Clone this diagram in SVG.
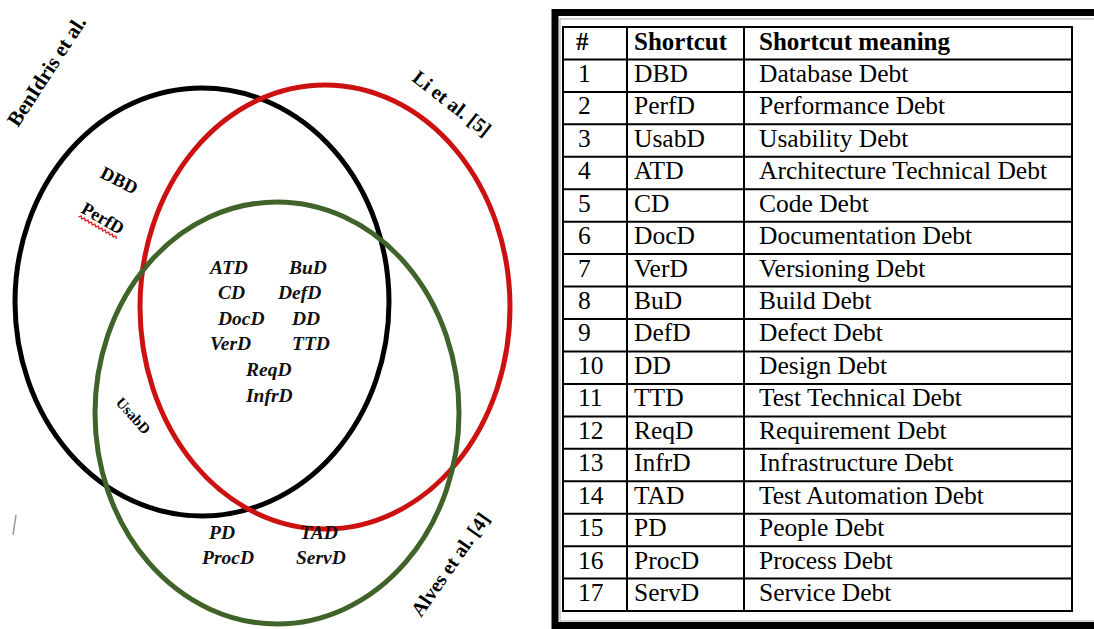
<svg xmlns="http://www.w3.org/2000/svg" width="1094" height="629" viewBox="0 0 1094 629">
<style>
.lbl{font-family:"Liberation Serif",serif;font-weight:bold;fill:#000}
.it{font-family:"Liberation Serif",serif;font-weight:bold;font-style:italic;fill:#111;font-size:19.5px}
.tb{font-family:"Liberation Serif",serif;font-size:25.5px;fill:#000}
.th{font-family:"Liberation Serif",serif;font-size:25px;font-weight:bold;fill:#000}
.grid{stroke:#000;stroke-width:2;fill:none}
</style>
<rect width="1094" height="629" fill="#fff"/>
<g id="venn">
<g id="set-benidris"><ellipse cx="202" cy="302" rx="187" ry="214" fill="none" stroke="#000" stroke-width="5"/>
<text class="lbl" font-size="21" transform="translate(18,128) rotate(-57)">BenIdris et al.</text></g>
<g id="set-li"><ellipse cx="325" cy="307" rx="185" ry="222" fill="none" stroke="#cc1111" stroke-width="5"/>
<text class="lbl" font-size="20" transform="translate(411,80) rotate(38)">Li et al. [5]</text></g>
<g id="set-alves"><ellipse cx="277" cy="413" rx="182" ry="211" fill="none" stroke="#3f6329" stroke-width="5"/>
<text class="lbl" font-size="20" transform="translate(421,618) rotate(-55)">Alves et al. [4]</text></g>
</g>
<g id="labels">
<text class="lbl" font-size="18.5" transform="translate(99,177) rotate(27)">DBD</text>
<g transform="translate(80,212) rotate(30)"><text class="lbl" font-size="18">PerfD</text>
<path d="M1,5 l2,-2 l2,2 l2,-2 l2,2 l2,-2 l2,2 l2,-2 l2,2 l2,-2 l2,2 l2,-2 l2,2 l2,-2 l2,2 l2,-2 l2,2 l2,-2 l2,2 l2,-2 l2,2 l2,-2 l2,2" fill="none" stroke="#e02020" stroke-width="1.3"/></g>
<text class="lbl" font-size="15" transform="translate(115,403) rotate(48)">UsabD</text>
<text class="it" x="210" y="274">ATD</text>
<text class="it" x="289" y="274">BuD</text>
<text class="it" x="218" y="299">CD</text>
<text class="it" x="278" y="299">DefD</text>
<text class="it" x="218" y="325">DocD</text>
<text class="it" x="292" y="325">DD</text>
<text class="it" x="210" y="350">VerD</text>
<text class="it" x="292" y="350">TTD</text>
<text class="it" x="246" y="376">ReqD</text>
<text class="it" x="246" y="402">InfrD</text>
<text class="it" x="209" y="539">PD</text>
<text class="it" x="300" y="539">TAD</text>
<text class="it" x="202" y="564">ProcD</text>
<text class="it" x="296" y="564">ServD</text>
<line x1="16" y1="515" x2="13" y2="535" stroke="#999" stroke-width="1.5"/>
</g>
<g id="table">
<rect x="555" y="12.5" width="600" height="613" fill="none" stroke="#000" stroke-width="7"/>
<rect x="560" y="19" width="600" height="602" fill="none" stroke="#aaa" stroke-width="1"/>
<rect class="grid" x="563" y="27" width="509" height="584"/>
<line class="grid" x1="627" y1="27" x2="627" y2="611"/>
<line class="grid" x1="744" y1="27" x2="744" y2="611"/>
<g class="grid">
<line x1="563" y1="59.4" x2="1072" y2="59.4"/><line x1="563" y1="91.9" x2="1072" y2="91.9"/>
<line x1="563" y1="124.3" x2="1072" y2="124.3"/><line x1="563" y1="156.8" x2="1072" y2="156.8"/>
<line x1="563" y1="189.2" x2="1072" y2="189.2"/><line x1="563" y1="221.7" x2="1072" y2="221.7"/>
<line x1="563" y1="254.1" x2="1072" y2="254.1"/><line x1="563" y1="286.6" x2="1072" y2="286.6"/>
<line x1="563" y1="319" x2="1072" y2="319"/><line x1="563" y1="351.5" x2="1072" y2="351.5"/>
<line x1="563" y1="383.9" x2="1072" y2="383.9"/><line x1="563" y1="416.4" x2="1072" y2="416.4"/>
<line x1="563" y1="448.8" x2="1072" y2="448.8"/><line x1="563" y1="481.3" x2="1072" y2="481.3"/>
<line x1="563" y1="513.7" x2="1072" y2="513.7"/><line x1="563" y1="546.2" x2="1072" y2="546.2"/>
<line x1="563" y1="578.6" x2="1072" y2="578.6"/>
</g>
<text class="th" x="576" y="50">#</text><text class="th" x="634" y="50">Shortcut</text><text class="th" x="759" y="50">Shortcut meaning</text>
<g class="tb">
<text x="578" y="82">1</text><text x="634" y="82">DBD</text><text x="759" y="82">Database Debt</text>
<text x="578" y="114">2</text><text x="634" y="114">PerfD</text><text x="759" y="114">Performance Debt</text>
<text x="578" y="147">3</text><text x="634" y="147">UsabD</text><text x="759" y="147">Usability Debt</text>
<text x="578" y="179">4</text><text x="634" y="179">ATD</text><text x="759" y="179">Architecture Technical Debt</text>
<text x="578" y="212">5</text><text x="634" y="212">CD</text><text x="759" y="212">Code Debt</text>
<text x="578" y="244">6</text><text x="634" y="244">DocD</text><text x="759" y="244">Documentation Debt</text>
<text x="578" y="277">7</text><text x="634" y="277">VerD</text><text x="759" y="277">Versioning Debt</text>
<text x="578" y="309">8</text><text x="634" y="309">BuD</text><text x="759" y="309">Build Debt</text>
<text x="578" y="341">9</text><text x="634" y="341">DefD</text><text x="759" y="341">Defect Debt</text>
<text x="578" y="374">10</text><text x="634" y="374">DD</text><text x="759" y="374">Design Debt</text>
<text x="578" y="406">11</text><text x="634" y="406">TTD</text><text x="759" y="406">Test Technical Debt</text>
<text x="578" y="439">12</text><text x="634" y="439">ReqD</text><text x="759" y="439">Requirement Debt</text>
<text x="578" y="471">13</text><text x="634" y="471">InfrD</text><text x="759" y="471">Infrastructure Debt</text>
<text x="578" y="504">14</text><text x="634" y="504">TAD</text><text x="759" y="504">Test Automation Debt</text>
<text x="578" y="536">15</text><text x="634" y="536">PD</text><text x="759" y="536">People Debt</text>
<text x="578" y="569">16</text><text x="634" y="569">ProcD</text><text x="759" y="569">Process Debt</text>
<text x="578" y="601">17</text><text x="634" y="601">ServD</text><text x="759" y="601">Service Debt</text>
</g>
</g>
</svg>
